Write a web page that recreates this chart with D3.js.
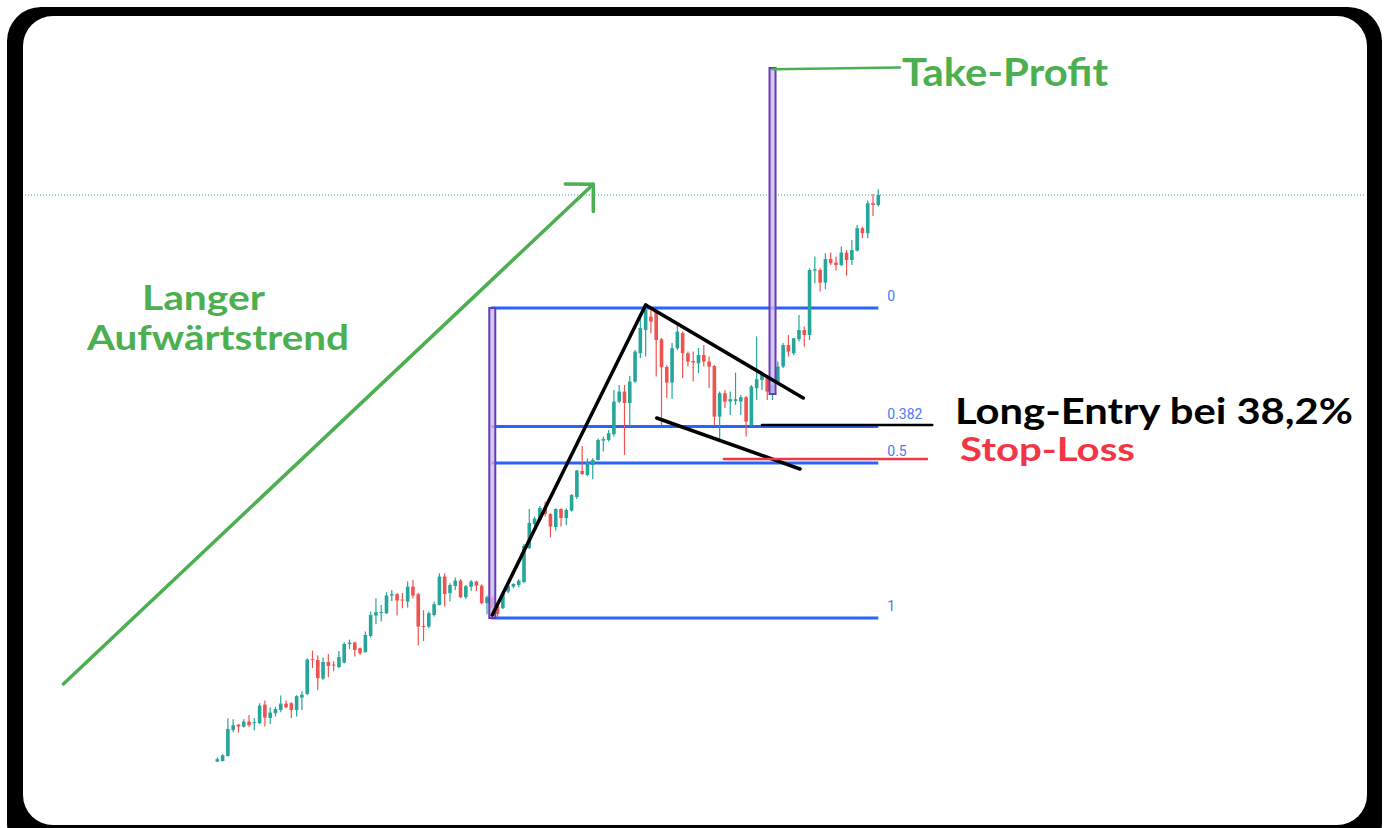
<!DOCTYPE html>
<html lang="de">
<head>
  <title>Bullische Flagge</title>
  <script src="https://d3js.org/d3.v7.min.js"></script>
  <style>
    body { margin: 0; background: #fff; }
    svg { display: block; }
    .lbl { font-family: Lato, "Open Sans", sans-serif; font-weight: 700; }
  </style>
</head>
<body>
<div id="chart"></div>
<script>
// candle data, one value per candle
const openP = [28.2,28.5,31,44,46.7,45.7,48.2,47.5,47.4,56.7,50,52.4,54,57.2,57.4,54,60.2,62,79.4,79,
  69.7,78,76.7,75.5,77.7,87,87.7,84.9,82.9,91,101.2,102.5,102.4,111.2,111.9,109.2,108.2,115.7,111.9,96,
  95.7,101.5,106.5,120.7,112.4,116,118.7,110.4,115.7,118.2,116.2,107.4,110.2,106,104.9,113.2,115.7,116.5,118,135,
  147,149,155.2,152,145.5,154.5,150,153.7,160.5,173.5,171.5,176.5,179,188.7,189,191.9,208.2,213.2,207.5,218.2,
  232.4,244,250.7,253.2,239.4,225.5,217.7,234.9,242.4,232.4,228.5,227.4,231.5,228.2,226,200.7,212.4,208.2,208.5,208.2,
  210.4,196.5,214.9,219,219.9,213.2,217.4,225.7,236.5,232.4,239.4,244,241.5,273.7,274,267.7,279.5,277.7,276.5,282.7,
  279,283.7,294.9,292.4,307.4,306.5];
const highP = [30.3,31.9,49.9,49.4,47,49.4,51.5,49.9,57.4,58.7,55.4,55.7,61.2,58.7,57.9,61.4,63.4,79.9,83.7,81.2,
  80.2,82,78.4,83.5,87.9,89.2,88.2,85.2,93.2,103.2,109.9,106.5,112.9,114,112.5,112.5,118.2,119,112.5,103.9,
  103.2,108.2,122.4,122.4,117.4,120.2,119.5,116.5,119,118.7,116.9,111.2,111,107.5,113.2,117.4,117.4,119.4,137,154.5,
  150.7,156,158.2,152.4,154.9,154.9,154.9,162,174,186,179.9,179.9,189.9,190.7,194,214,216.5,216.5,221,234,
  250,255.5,254,254,240,226.5,237.5,247.5,243.2,233.2,233.2,235,236.5,230.7,226.5,213.2,214,213.2,222.7,211.5,
  211,216.5,240.7,222.5,220.5,219,228.2,237.5,241.5,240,251.5,245.7,274.9,280.7,274.9,282.4,282.7,280.7,285.7,284,
  289,296.5,295.7,308.7,312,314.4];
const lowP = [28,28.2,30.7,42.9,42.7,45.2,45.4,43.9,47,45.7,47,50.7,52.9,54.9,50,50.7,54,61.5,74.9,64,
  69,70.4,73.4,74.9,77.2,84.5,80.7,81.5,82.7,90.2,96.9,98.2,102,108.5,101.2,104.9,105.2,109.9,86.2,88.5,
  94.9,100.7,106.2,105.7,108.2,114,109.9,109.5,113.5,113.5,106.9,101.9,100,100.5,104.5,112.4,114.9,115.2,117.4,134.4,
  146,148.2,150.7,140.4,143.7,145.7,146.5,153.2,159.5,171.5,171,169.4,178.7,183.2,188.2,190.7,207.5,181.5,195.7,217.5,
  230,230.7,242.4,220.7,196.5,210,209.5,234,220,225.7,218.2,222.5,225.7,215,196,188.2,205,201.5,206.5,201.5,
  190.7,195.7,209,214,209,209,216.5,225,230.7,231.5,238.2,235.7,239,267.4,263.2,264.4,276.5,273.7,276,271.2,
  276.5,283.2,289.9,289.9,301,305.7];
const closeP = [29.4,31.4,44.5,46.4,45.7,48.2,46.5,47.9,56.2,50.2,52.7,54.5,57.2,55.4,54,60.9,61.7,79.2,78.9,69.9,
  78,76,76.2,80.5,87,87.7,84,82.4,91.5,101.5,102.9,103,111.2,111.9,108.7,108.9,115.7,111.2,95.7,95.5,
  102.4,106.9,120.7,112,116.5,118.7,110.4,115.9,118.2,116.2,107.4,110.4,105,102,112.4,116.2,117,118.7,136,147.5,
  149.7,155,152,145.7,154.5,150,154,161.5,173.7,172,177.7,179,189,189.5,192.4,208.2,213.2,207.5,218.2,233.2,
  245,254,248.2,239,225.4,217.7,234.9,243.2,232.4,228.2,227.7,231.5,228.2,225.7,200.7,212.4,208.2,209.4,209.4,210.4,
  198.2,215.7,219.4,221.5,213.2,216.5,225.7,236.5,233.2,239.9,244,241.5,274,274.4,267.7,279.5,277.4,276.5,282.7,279,
  284,294.9,292.4,307.4,306.5,311.5];

// fibonacci retracement: swing low / high and the levels drawn
const fibLow = 100, fibHigh = 255;
const fibLevels = [0, 0.382, 0.5, 1];
const fibLabels = ["0", "0.382", "0.5", "1"];
const fibStart = 52, fibEnd = 125;           // candle index range of the fib tool

// hand-drawn annotations, in (candle index, price)
const impulseLine = [[52, 101.5], [81, 256.5]];
const upperFlag = [[81, 256.5], [110.8, 210]];
const lowerFlag = [[83.1, 200], [110.2, 174.5]];
const entryLine = [[103, 196.5], [135.2, 196.5]];
const stopLine = [[95.8, 179.5], [134.2, 179.5]];
const tpLine = [[105, 374.4], [129.1, 375.3]];
const tpBar = {i: 105, from: 212, to: 375};
const trendArrow = [[-29.1, 67], [71.1, 316.9]];
const arrowHead = [[65.8, 317], [71.1, 316.9], [71.1, 303.2]];

const W = 1389, H = 828;
const svg = d3.select("#chart").append("svg")
  .attr("width", W).attr("height", H);

// rounded black frame
svg.append("rect").attr("x", 7).attr("y", 7).attr("width", 1375).attr("height", 850)
  .attr("rx", 34).attr("fill", "#000");
svg.append("rect").attr("x", 23).attr("y", 16).attr("width", 1344).attr("height", 809)
  .attr("rx", 30).attr("fill", "#fff");

const x = d3.scaleLinear().domain([0, openP.length - 1]).range([217.3, 878.3]);
const y = d3.scaleLinear().domain([14, 404]).range([790, 10]);

const candles = openP.map((o, i) => ({i, o, h: highP[i], l: lowP[i], c: closeP[i]}));
const up = "#26a69a", down = "#ef5350";

// last price dotted line
svg.append("line")
  .attr("x1", 25).attr("x2", 1365)
  .attr("y1", y(closeP[closeP.length - 1])).attr("y2", y(closeP[closeP.length - 1]))
  .attr("stroke", up).attr("stroke-width", 1).attr("stroke-dasharray", "1,2");

// fib lines
const fibPrice = lv => fibHigh - lv * (fibHigh - fibLow);
svg.append("g").selectAll("line").data(fibLevels).join("line")
  .attr("x1", x(fibStart) - 1).attr("x2", x(fibEnd))
  .attr("y1", d => y(fibPrice(d))).attr("y2", d => y(fibPrice(d)))
  .attr("stroke", "#2962ff").attr("stroke-width", 3);
svg.append("g").selectAll("text").data(fibLevels).join("text")
  .attr("x", x(fibEnd) + 9).attr("y", d => y(fibPrice(d)) - 7)
  .attr("font-family", "Roboto, sans-serif").attr("font-size", 14)
  .attr("fill", "#4a7af7")
  .text((d, k) => fibLabels[k]);

// candles
const g = svg.append("g");
g.selectAll("line.wick").data(candles).join("line")
  .attr("class", "wick")
  .attr("x1", d => x(d.i)).attr("x2", d => x(d.i))
  .attr("y1", d => y(d.h)).attr("y2", d => y(d.l))
  .attr("stroke", d => d.c >= d.o ? up : down).attr("stroke-width", 1.2);
g.selectAll("rect.body").data(candles).join("rect")
  .attr("class", "body")
  .attr("x", d => x(d.i) - 1.8).attr("width", 3.6)
  .attr("y", d => y(Math.max(d.o, d.c)))
  .attr("height", d => Math.max(1, Math.abs(y(d.o) - y(d.c))))
  .attr("fill", d => d.c >= d.o ? up : down);

// purple bars
function purpleBar(i, p0, p1) {
  svg.append("rect")
    .attr("x", x(i) - 3).attr("width", 6)
    .attr("y", y(p1)).attr("height", y(p0) - y(p1))
    .attr("fill", "#cbbcec").attr("fill-opacity", 0.8)
    .attr("stroke", "#673ab7").attr("stroke-width", 2);
}
purpleBar(fibStart, fibLow, fibHigh);
purpleBar(tpBar.i, tpBar.from, tpBar.to);

const line = d3.line().x(d => x(d[0])).y(d => y(d[1]));
function draw(pts, color, w) {
  svg.append("path").attr("d", line(pts))
    .attr("fill", "none").attr("stroke", color).attr("stroke-width", w)
    .attr("stroke-linecap", "round").attr("stroke-linejoin", "round");
}
draw(impulseLine, "#000", 3.5);
draw(upperFlag, "#000", 3.5);
draw(lowerFlag, "#000", 3.5);
draw(entryLine, "#000", 2.5);
draw(stopLine, "#f23645", 2.5);
draw(tpLine, "#4caf50", 2.5);
draw(trendArrow, "#4caf50", 3.5);
draw(arrowHead, "#4caf50", 3.5);

// labels
function label(txt, lx, ly, size, len, color) {
  svg.append("text").attr("class", "lbl")
    .attr("x", lx).attr("y", ly).attr("font-size", size)
    .attr("textLength", len).attr("lengthAdjust", "spacingAndGlyphs")
    .attr("fill", color).text(txt);
}
label("Langer", 142, 310, 35, 123, "#4caf50");
label("Aufwärtstrend", 87, 350, 35, 262, "#4caf50");
label("Take-Profit", 902, 86, 39, 206, "#4caf50");
label("Long-Entry bei 38,2%", 955, 424, 37, 398, "#000");
label("Stop-Loss", 960, 461, 32, 175, "#f23645");
</script>
</body>
</html>
